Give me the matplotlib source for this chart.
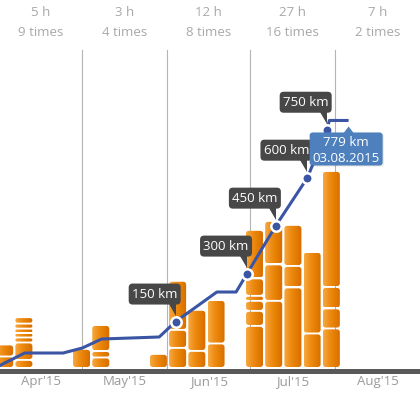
import numpy as np
import pandas as pd
import matplotlib
matplotlib.use("Agg")
import matplotlib.pyplot as plt
import matplotlib.dates as mdates
import matplotlib.transforms as mtransforms
from matplotlib.patches import FancyBboxPatch, Polygon
from matplotlib.colors import LinearSegmentedColormap

plt.rcParams['font.family'] = ['Open Sans', 'DejaVu Sans']

# weekly bars, each segment = one ride (km), bottom to top
week_start = ['2015-03-30', '2015-04-06', '2015-04-27', '2015-05-04', '2015-05-25',
              '2015-06-01', '2015-06-08', '2015-06-15', '2015-06-29', '2015-07-06',
              '2015-07-13', '2015-07-20', '2015-07-27']
week_rides = [[8.0, 8.4],
              [5.6, 12.2, 3.5, 3.1, 3.1, 3.5, 4.5],
              [13.3],
              [7.3, 4.5, 18.2],
              [9.8],
              [14.0, 12.6, 34.3],
              [11.9, 28.7],
              [17.1, 30.4],
              [29.4, 10.5, 7.0, 3.5, 12.2, 33.9],
              [46.9, 25.5, 30.4],
              [56.3, 15.0, 28.7],
              [24.1, 57.0],
              [27.6, 14.0, 15.0, 81.1]]

# cumulative distance line
line_dates = ['2015-03-29 00:00', '2015-04-10 00:00', '2015-04-24 00:00', '2015-05-01 00:00',
              '2015-05-08 00:00', '2015-05-29 00:00', '2015-06-04 00:00', '2015-06-19 00:00',
              '2015-06-26 00:00', '2015-06-30 00:00', '2015-07-10 12:00', '2015-07-22 00:00',
              '2015-07-29 00:00', '2015-07-30 00:00', '2015-08-06 00:00']
line_km = [0, 51.6, 51.6, 67.3, 95.4, 101.7, 150, 242.4, 242.4, 300, 450, 600, 750, 779, 779]
milestone_idx = [6, 9, 10, 11, 12]

month_labels = ["Apr'15", "May'15", "Jun'15", "Jul'15", "Aug'15"]
month_hours = ['5 h', '3 h', '12 h', '27 h', '7 h']
month_times = ['9 times', '4 times', '8 times', '16 times', '2 times']

tip_km = '779 km'
tip_date = '03.08.2015'

W, H = 420, 394
base_px = 370.5          # centre of the dark axis band (from top)
fig = plt.figure(figsize=(W / 100, H / 100), dpi=100)
ax = fig.add_axes([0, (H - base_px) / H, 1, base_px / H])
ax2 = ax.twinx()

month_start = pd.date_range('2015-04-01', periods=6, freq='MS')
ms_num = mdates.date2num(month_start)
centers = (ms_num[:-1] + ms_num[1:]) / 2

ax.set_xlim(ms_num[0], ms_num[-1])
ax.set_ylim(-2.45, 256.6)
ax2.set_ylim(-3.1, 1155.8)

bar_cmap = LinearSegmentedColormap.from_list('bar', ['#f6a943', '#ef8e17', '#e47d02', '#d56c00'])
grad = np.linspace(0, 1, 64).reshape(1, -1)
bar_w = 6.2
gap = 1.3
aspect = 1.92

for ws, rides in zip(week_start, week_rides):
    x0 = mdates.date2num(pd.Timestamp(ws)) + 0.6
    y = 0
    for r in rides:
        h = r - gap
        rr = min(1.0, h / (2 * aspect))
        p = FancyBboxPatch((x0, y), bar_w, h, boxstyle=f'round,pad=0,rounding_size={rr}',
                           mutation_aspect=aspect, fc='none', ec='none')
        ax.add_patch(p)
        im = ax.imshow(grad, cmap=bar_cmap, extent=(x0, x0 + bar_w, y, y + h),
                       aspect='auto', interpolation='bilinear', zorder=2)
        im.set_clip_path(p)
        y += r

ax.set_xlim(ms_num[0], ms_num[-1])
ax.set_ylim(-2.45, 256.6)

# month separators
for m in ms_num[1:-1]:
    ax.axvline(m, ymin=0, ymax=(base_px - 50) / base_px, color='#b4b4b4', lw=0.8, zorder=1)

trans = mtransforms.blended_transform_factory(ax.transData, ax.transAxes)
for c, hh, tt in zip(centers, month_hours, month_times):
    ax.text(c, (base_px - 13) / base_px, hh, transform=trans, ha='center', va='center',
            color='#a8a8a8', fontsize=9.5)
    ax.text(c, (base_px - 32) / base_px, tt, transform=trans, ha='center', va='center',
            color='#a8a8a8', fontsize=9.5)

ax.set_xticks(centers)
ax.set_xticklabels(month_labels)
ax.tick_params(axis='x', length=0, pad=3, labelsize=9.5, colors='#9a9a9a')
ax.set_yticks([])
ax2.set_yticks([])
for s in ['top', 'left', 'right']:
    ax.spines[s].set_visible(False)
    ax2.spines[s].set_visible(False)
ax2.spines['bottom'].set_visible(False)
ax.spines['bottom'].set_color('#595959')
ax.spines['bottom'].set_linewidth(3.6)

# cumulative line
blue = '#3b55a5'
ld = mdates.date2num(pd.to_datetime(line_dates, format='%Y-%m-%d %H:%M'))
lk = np.array(line_km, dtype=float)
ax2.plot(ld, lk, color=blue, lw=2.2, solid_joinstyle='round', solid_capstyle='butt', zorder=3)
ax2.plot(ld[milestone_idx], lk[milestone_idx], 'o', ms=7.5, mfc=blue, mec='white',
         mew=1.8, zorder=4)

ident = mtransforms.IdentityTransform()

# milestone callouts
for i in milestone_idx:
    px, py = ax2.transData.transform((ld[i], lk[i]))
    right = px + 5
    box = FancyBboxPatch((right - 52, py + 17), 52, 21, boxstyle='round,pad=0,rounding_size=4',
                         fc='#474747', ec='none', transform=ident, zorder=5)
    fig.add_artist(box)
    tail = Polygon([(px - 7, py + 17.5), (px, py + 17.5), (px, py + 6)], closed=True,
                   fc='#474747', ec='none', transform=ident, zorder=5)
    fig.add_artist(tail)
    fig.text(right - 26, py + 27.5, f'{int(lk[i])} km', transform=ident, ha='center',
             va='center', color='white', fontsize=9.5, zorder=6)

# tooltip on the last point
px, py = ax2.transData.transform((ld[-1], lk[-1]))
shadow = FancyBboxPatch((px - 38, py - 46), 73, 33, boxstyle='round,pad=0,rounding_size=3',
                        fc='#000000', alpha=0.12, ec='none', transform=ident, zorder=6)
fig.add_artist(shadow)
tip_box = FancyBboxPatch((px - 39, py - 45), 73, 33, boxstyle='round,pad=0,rounding_size=3',
                         fc='#4d80bc', ec='none', transform=ident, zorder=7)
fig.add_artist(tip_box)
arrow = Polygon([(px - 5, py - 12.5), (px + 5, py - 12.5), (px, py - 6)], closed=True,
                fc='#4d80bc', ec='none', transform=ident, zorder=7)
fig.add_artist(arrow)
fig.text(px - 2.5, py - 22, tip_km, transform=ident, ha='center', va='center',
         color='white', fontsize=9.5, zorder=8)
fig.text(px - 2.5, py - 38, tip_date, transform=ident, ha='center', va='center',
         color='white', fontsize=9.5, zorder=8)

fig.savefig('out.png', dpi=100)
